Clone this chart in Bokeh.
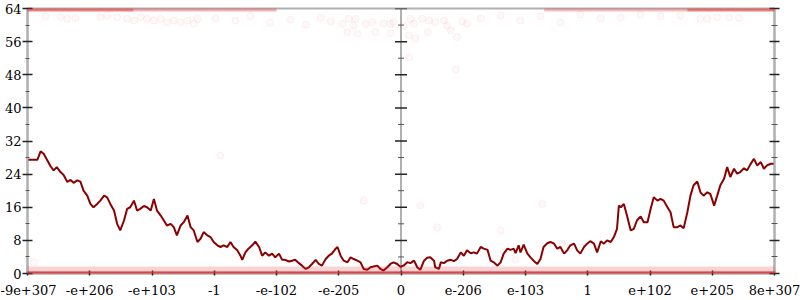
from bokeh.plotting import figure
from bokeh.models import Range1d, FixedTicker, LinearAxis, Span, CustomJSTickFormatter, ColumnDataSource
from bokeh.embed import file_html
from bokeh.resources import INLINE

# ---- data ----
x_tick_pos = [-6, -5, -4, -3, -2, -1, 0, 1, 2, 3, 4, 5, 6]
x_tick_labels = ["-9e+307", "-e+206", "-e+103", "-1", "-e-102", "-e-205", "0",
                 "e-206", "e-103", "1", "e+102", "e+205", "8e+307"]
y_ticks = [0, 8, 16, 24, 32, 40, 48, 56, 64]
y_minor = [4, 12, 20, 28, 36, 44, 52, 60]

line_x = [
    -6.00, -5.84, -5.79, -5.74, -5.68, -5.63, -5.58, -5.53, -5.47, -5.42,
    -5.36, -5.31, -5.26, -5.20, -5.15, -5.10, -5.04, -4.99, -4.94, -4.88,
    -4.83, -4.77, -4.72, -4.67, -4.61, -4.56, -4.51, -4.45, -4.40, -4.35,
    -4.29, -4.24, -4.19, -4.13, -4.08, -4.02, -3.97, -3.92, -3.86, -3.81,
    -3.76, -3.70, -3.65, -3.60, -3.54, -3.49, -3.43, -3.38, -3.33, -3.27,
    -3.22, -3.17, -3.11, -3.06, -3.01, -2.95, -2.90, -2.85, -2.79, -2.74,
    -2.69, -2.63, -2.58, -2.55, -2.50, -2.45, -2.39, -2.34, -2.28, -2.23,
    -2.18, -2.12, -2.07, -2.02, -1.96, -1.91, -1.86, -1.80, -1.75, -1.70,
    -1.64, -1.59, -1.53, -1.48, -1.43, -1.37, -1.32, -1.27, -1.21, -1.16,
    -1.11, -1.05, -1.02, -0.97, -0.92, -0.86, -0.81, -0.76, -0.70, -0.65,
    -0.60, -0.54, -0.49, -0.44, -0.38, -0.33, -0.28, -0.22, -0.17, -0.12,
    -0.06, -0.01, 0.05, 0.10, 0.15, 0.21, 0.26, 0.31, 0.37, 0.42,
    0.47, 0.53, 0.55, 0.61, 0.64, 0.69, 0.74, 0.80, 0.85, 0.90,
    0.96, 1.01, 1.06, 1.12, 1.17, 1.22, 1.28, 1.33, 1.39, 1.44,
    1.49, 1.55, 1.60, 1.65, 1.71, 1.76, 1.81, 1.84, 1.89, 1.92,
    1.97, 2.03, 2.08, 2.13, 2.19, 2.24, 2.29, 2.35, 2.40, 2.46,
    2.51, 2.56, 2.62, 2.67, 2.72, 2.78, 2.83, 2.88, 2.94, 2.99,
    3.04, 3.10, 3.15, 3.21, 3.26, 3.31, 3.37, 3.42, 3.47, 3.50,
    3.53, 3.58, 3.63, 3.69, 3.74, 3.79, 3.85, 3.90, 3.96, 4.01,
    4.06, 4.12, 4.17, 4.22, 4.28, 4.33, 4.38, 4.44, 4.49, 4.54,
    4.60, 4.65, 4.70, 4.76, 4.81, 4.86, 4.92, 4.97, 5.03, 5.08,
    5.13, 5.19, 5.24, 5.29, 5.35, 5.40, 5.45, 5.51, 5.56, 5.61,
    5.67, 5.72, 5.78, 5.83, 5.88, 5.94, 6.00,
]
line_y = [
    27.5, 27.5, 29.5, 28.9, 27.3, 25.9, 24.9, 25.7, 24.5, 23.8,
    22.1, 22.6, 21.9, 22.5, 22.2, 20.0, 18.8, 16.8, 16.0, 16.8,
    17.6, 18.8, 18.4, 16.8, 15.2, 12.0, 10.4, 12.8, 15.6, 16.0,
    17.6, 15.2, 15.6, 16.3, 16.0, 15.2, 18.0, 15.2, 14.0, 12.8,
    11.6, 12.0, 11.2, 9.2, 11.6, 12.4, 14.0, 11.2, 10.4, 7.6,
    8.4, 10.0, 9.2, 8.8, 7.6, 6.8, 6.4, 6.8, 6.4, 7.6,
    6.4, 5.6, 4.3, 3.3, 5.1, 6.0, 6.8, 7.7, 6.4, 4.3,
    5.1, 4.3, 4.8, 3.9, 4.8, 3.3, 3.3, 2.9, 3.1, 3.3,
    2.5, 1.9, 1.1, 1.5, 2.3, 3.3, 2.3, 1.9, 3.5, 4.3,
    4.8, 6.0, 6.4, 4.3, 3.1, 2.7, 3.9, 3.5, 3.1, 2.7,
    1.1, 0.9, 1.5, 1.7, 1.9, 1.1, 0.7, 1.5, 2.3, 2.7,
    2.3, 1.6, 2.0, 2.7, 2.5, 3.1, 1.5, 0.9, 3.1, 3.8,
    3.9, 3.1, 1.5, 1.1, 2.7, 2.5, 3.1, 3.3, 3.0, 3.5,
    5.1, 4.3, 5.6, 4.9, 5.1, 4.8, 6.4, 6.0, 5.7, 3.1,
    2.7, 1.9, 2.7, 4.8, 6.0, 5.7, 6.0, 4.9, 6.8, 5.1,
    7.0, 4.8, 3.9, 3.1, 2.3, 3.5, 6.4, 7.3, 7.6, 7.2,
    6.0, 6.4, 4.8, 5.6, 6.8, 7.2, 5.6, 4.8, 6.4, 7.2,
    7.8, 7.2, 5.1, 7.8, 7.2, 8.0, 7.6, 8.8, 10.8, 16.4,
    16.0, 16.8, 14.0, 10.4, 10.8, 12.8, 13.8, 12.4, 12.4, 15.6,
    18.4, 17.6, 18.0, 17.6, 16.0, 14.8, 11.2, 11.2, 11.6, 10.9,
    14.8, 18.8, 21.3, 22.2, 19.6, 18.8, 19.6, 19.2, 16.4, 18.8,
    21.3, 22.9, 25.7, 23.3, 25.3, 24.1, 24.5, 25.4, 24.9, 26.3,
    27.7, 26.1, 26.9, 25.3, 26.1, 26.5, 26.5,
]

dot_x = [
    -0.94, -0.84, -0.73, -0.76, -0.86, -0.70, -0.57, -0.46, -0.41, -0.28,
    -0.17, -0.17, -0.12, 0.04, 0.13, 0.15, 0.21, 0.23, 0.34, 0.45,
    0.43, 0.55, 0.69, 0.74, 0.80, 0.90, 0.98, 1.06, 0.13, 0.88,
    -5.71, -5.47, -5.36, -5.23, -4.83, -4.72, -4.56, -4.40, -4.29, -4.18,
    -4.08, -3.97, -3.86, -3.76, -3.65, -3.54, -3.43, -3.33, -3.27,
    -2.98, -2.66, -2.42, -2.10, -1.78, -1.53, -1.29, -1.13,
    1.28, 1.60, 1.92, 2.24, 2.56, 2.88, 3.21, 3.53, 3.85, 4.17, 4.49,
    4.81, 4.92, 5.08, 5.27, 5.43,
    -2.90, 0.31, 0.58, 1.60, 2.27, 1.84, 2.59, -0.60, -5.90,
]
dot_y = [
    60.3, 61.5, 61.5, 59.9, 58.3, 57.9, 60.3, 60.7, 58.3, 60.4,
    60.3, 58.0, 60.7, 59.9, 57.5, 61.5, 60.3, 56.7, 61.5, 61.1,
    58.3, 60.7, 61.1, 59.9, 58.7, 57.1, 60.9, 60.3, 52.2, 49.2,
    62.1, 61.9, 61.5, 61.7, 61.9, 62.3, 61.9, 61.5, 61.1, 61.9,
    61.5, 61.1, 61.5, 60.7, 61.1, 60.7, 61.1, 60.3, 61.5,
    61.6, 61.1, 62.1, 60.6, 61.3, 60.1, 61.8, 60.9,
    61.6, 62.3, 61.1, 62.1, 60.6, 62.5, 61.6, 61.8, 62.5, 62.1, 62.3,
    61.5, 61.5, 61.9, 61.9, 61.7,
    28.5, 16.4, 11.2, 10.4, 16.8, 3.3, 7.2, 17.6, 2.7,
]

band_x0 = [-6.0, -6.0, -6.0, -4.3, 2.3, 4.6]
band_x1 = [6.0, 6.0, -4.3, -2.0, 4.6, 6.0]
band_y0 = [0.0, 0.55, 63.3, 63.3, 63.3, 63.3]
band_y1 = [0.55, 1.7, 64.0, 64.0, 64.0, 64.0]
band_alpha = [0.8, 0.2, 0.6, 0.35, 0.3, 0.6]

center_x = 0

# ---- figure ----
FONT = "DejaVu Serif"
GRAY = "#b0b0b0"

p = figure(width=800, height=300, output_backend="svg", toolbar_location=None,
           x_range=Range1d(-6, 6), y_range=Range1d(0, 64),
           min_border_left=27, min_border_right=26, min_border_top=8, min_border_bottom=27)
p.xgrid.visible = False
p.ygrid.visible = False
p.outline_line_color = GRAY
p.outline_line_width = 2
p.background_fill_color = "white"
p.border_fill_color = "white"

# x axis
xa = p.xaxis[0]
xa.ticker = FixedTicker(ticks=x_tick_pos)
xa.major_label_overrides = {k: v for k, v in zip(x_tick_pos, x_tick_labels)}
xa.axis_line_color = GRAY
xa.axis_line_width = 2
xa.major_tick_in = 3
xa.major_tick_out = 2
xa.major_tick_line_color = "#222222"
xa.major_tick_line_width = 1.5
xa.minor_tick_line_color = None
xa.major_label_text_font = FONT
xa.major_label_text_font_size = "13px"
xa.major_label_text_color = "black"
xa.major_label_standoff = 9

# y axis (left)
ya = p.yaxis[0]
ya.ticker = FixedTicker(ticks=y_ticks, minor_ticks=y_minor)
ya.axis_line_color = GRAY
ya.axis_line_width = 2
ya.major_tick_in = 5
ya.major_tick_out = 5
ya.minor_tick_in = 2
ya.minor_tick_out = 2
ya.major_tick_line_color = "#222222"
ya.major_tick_line_width = 1.5
ya.minor_tick_line_color = "#555555"
ya.minor_tick_line_width = 1
ya.major_label_text_font = FONT
ya.major_label_text_font_size = "13px"
ya.major_label_text_color = "black"
ya.major_label_standoff = 1

# right axis (ticks only)
ra = LinearAxis(ticker=FixedTicker(ticks=y_ticks, minor_ticks=y_minor),
                formatter=CustomJSTickFormatter(code="return ''"))
ra.axis_line_color = GRAY
ra.axis_line_width = 2
ra.major_tick_in = 5
ra.major_tick_out = 5
ra.minor_tick_in = 3
ra.minor_tick_out = 3
ra.major_tick_line_color = "#222222"
ra.major_tick_line_width = 1.5
ra.minor_tick_line_color = "#555555"
ra.minor_tick_line_width = 1
ra.major_label_standoff = 0
p.add_layout(ra, "right")

# scatter bands and dots
RED = "#e0282c"
bsrc = ColumnDataSource(dict(x0=band_x0, x1=band_x1, y0=band_y0, y1=band_y1, a=band_alpha))
p.quad(left="x0", right="x1", bottom="y0", top="y1", fill_alpha="a",
       fill_color=RED, line_color=None, source=bsrc, level="overlay")
p.scatter(dot_x, dot_y, size=7, fill_color=RED, fill_alpha=0.03,
          line_color=RED, line_alpha=0.06, line_width=1)

# main line
p.line(line_x, line_y, line_color="#8b0000", line_width=2)

# center axis
p.add_layout(Span(location=center_x, dimension="height", line_color=GRAY,
                  line_width=2, level="underlay"))
p.scatter([center_x] * len(y_ticks), y_ticks, marker="dash", size=12,
          line_color="#222222", line_width=1.5)
p.scatter([center_x] * len(y_minor), y_minor, marker="dash", size=6,
          line_color="#555555", line_width=1)

open("out.html", "w").write(file_html(p, INLINE))
